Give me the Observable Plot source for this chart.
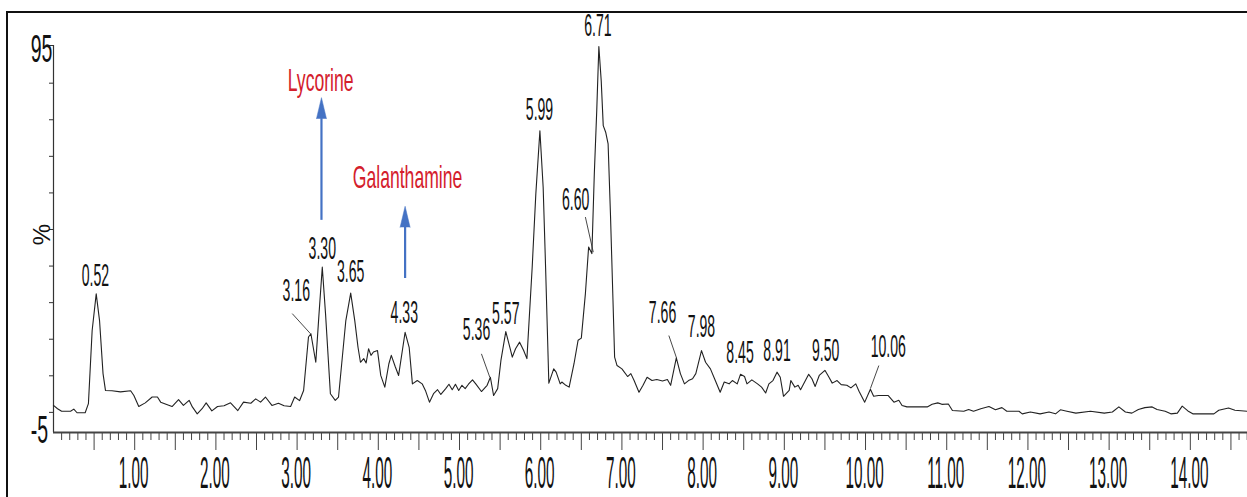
<!DOCTYPE html>
<html><head><meta charset="utf-8">
<script src="https://cdn.jsdelivr.net/npm/d3@7"></script>
<script src="https://cdn.jsdelivr.net/npm/@observablehq/plot@0.6"></script>
<style>
html,body{margin:0;padding:0;background:#fff;}
#wrap{position:relative;width:1247px;height:497px;overflow:hidden;}
#frame{position:absolute;left:6px;top:11px;width:1300px;height:600px;border-left:2.5px solid #111;border-top:2.5px solid #111;pointer-events:none;}
</style></head><body>
<div id="wrap"><div id="chart"></div><div id="frame"></div></div>
<script>
// Retention time (min) and relative intensity (%) of the chromatogram trace
const times = [0.00,0.05,0.10,0.21,0.25,0.29,0.39,0.43,0.476,0.526,0.567,0.61,0.64,0.72,0.825,0.95,0.99,1.05,1.13,1.215,1.28,1.32,1.46,1.54,1.60,1.67,1.71,1.77,1.83,1.88,1.95,2.02,2.10,2.18,2.27,2.34,2.43,2.49,2.55,2.61,2.69,2.77,2.84,2.92,2.97,3.03,3.08,3.14,3.17,3.23,3.27,3.31,3.35,3.41,3.47,3.51,3.60,3.66,3.71,3.75,3.78,3.82,3.85,3.88,3.91,3.94,3.99,4.03,4.08,4.13,4.16,4.21,4.25,4.33,4.38,4.42,4.48,4.54,4.58,4.63,4.68,4.73,4.77,4.83,4.87,4.91,4.95,4.99,5.03,5.07,5.11,5.16,5.20,5.27,5.34,5.38,5.42,5.47,5.51,5.57,5.62,5.65,5.69,5.74,5.79,5.83,5.895,5.94,5.99,6.03,6.06,6.10,6.16,6.19,6.24,6.26,6.31,6.35,6.41,6.46,6.50,6.55,6.59,6.63,6.66,6.69,6.716,6.745,6.77,6.80,6.83,6.86,6.89,6.91,6.94,7.00,7.07,7.11,7.15,7.21,7.26,7.31,7.37,7.43,7.50,7.56,7.60,7.67,7.72,7.77,7.82,7.87,7.91,7.98,8.03,8.09,8.15,8.21,8.26,8.32,8.36,8.42,8.46,8.51,8.54,8.60,8.67,8.72,8.77,8.81,8.86,8.91,8.95,8.99,9.06,9.08,9.13,9.17,9.20,9.25,9.30,9.34,9.38,9.43,9.50,9.55,9.59,9.65,9.70,9.77,9.82,9.88,9.92,9.99,10.06,10.10,10.16,10.28,10.35,10.41,10.45,10.51,10.66,10.76,10.82,10.89,10.94,11.02,11.07,11.21,11.27,11.33,11.42,11.52,11.60,11.68,11.74,11.89,11.93,12.03,12.15,12.26,12.34,12.40,12.48,12.59,12.77,12.94,13.04,13.12,13.20,13.28,13.36,13.44,13.53,13.59,13.69,13.76,13.84,13.90,13.97,14.03,14.29,14.35,14.47,14.55,14.70];
const intensity = [1.9,1.0,0.3,0.3,0.9,-0.1,-0.1,2.4,22.4,32.4,25.1,10.6,6.0,5.9,5.6,5.9,4.6,1.6,2.6,4.2,4.2,2.8,1.6,3.5,1.9,3.3,1.5,-0.4,1.0,2.6,0.4,1.6,1.8,2.6,0.5,2.8,2.5,3.7,2.8,4.2,1.9,2.5,1.8,1.6,4.2,3.2,6.0,20.6,21.5,13.7,27.0,39.7,27.0,5.1,3.3,4.2,25.1,32.6,25.1,17.8,13.7,14.7,13.5,17.4,15.6,16.5,16.9,10.1,6.9,13.3,15.6,12.4,10.1,21.9,17.8,7.8,8.7,7.8,6.0,2.8,5.1,6.2,4.9,6.5,7.7,6.2,7.7,6.0,7.4,6.5,7.7,8.9,7.8,5.7,7.4,9.6,4.6,6.5,14.2,22.1,17.8,15.1,17.4,19.2,16.9,14.7,39.7,59.8,77.0,61.6,39.7,8.0,11.9,11.0,7.8,8.3,7.4,6.9,13.3,19.7,20.3,32.4,45.2,43.4,65.2,82.5,100.0,90.7,78.4,76.6,73.4,53.4,30.6,15.1,12.8,11.9,9.8,10.6,8.7,5.5,7.4,9.6,8.7,9.0,8.6,9.0,7.4,14.9,10.6,7.8,8.7,9.2,10.6,16.9,13.7,11.9,8.7,5.5,8.3,7.8,8.7,7.8,10.4,9.8,7.8,8.9,7.8,6.9,5.3,7.8,8.7,11.0,9.6,4.4,6.0,8.7,6.9,7.4,6.2,8.3,10.4,9.2,7.1,10.1,11.5,9.6,8.0,8.7,7.6,7.4,6.7,7.8,5.8,2.8,6.3,4.4,4.6,4.6,2.8,3.3,1.9,1.5,1.5,1.5,2.2,2.6,2.2,2.3,0.5,0.3,0.8,0.3,1.0,1.6,0.7,1.3,0.3,0.3,-0.4,0.1,-0.4,0.1,-0.4,0.7,0.3,-0.2,0.3,-0.2,0.1,1.5,0.1,-0.2,0.8,1.3,1.5,0.8,0.3,-0.4,-0.2,1.7,0.4,-0.4,-0.4,0.6,1.2,0.6,0.3];

// Peak annotations: label text and label position (time, %)
const peakLabels = ["0.52","3.16","3.30","3.65","4.33","5.36","5.57","5.99","6.60","6.71","7.66","7.98","8.45","8.91","9.50","10.06"];
const peakLabelT = [0.517,2.99,3.31,3.66,4.32,5.21,5.57,5.985,6.43,6.705,7.50,7.98,8.455,8.91,9.51,10.28];
const peakLabelV = [37.4,33.3,44.8,38.5,27.2,22.7,27.0,82.8,58.2,105.6,27.2,23.5,16.3,16.8,16.8,18.0];

// Leader lines from offset labels to their peaks
const leaderT1 = [2.94,5.27,6.55,7.578,10.164];
const leaderV1 = [27.0,16.0,53.4,21.0,12.8];
const leaderT2 = [3.165,5.373,6.647,7.672,10.06];
const leaderV2 = [21.5,9.6,43.8,14.9,6.5];

// Compound annotations
const compoundNames = ["Lycorine","Galanthamine"];
const compoundT = [3.29,4.36];
const compoundV = [90.7,64.2];
const arrowT = [3.30,4.33];
const arrowFrom = [52.5,36.6];
const arrowHeadBase = [80.3,50.6];

// Axis ticks
const xTickValues = [1,2,3,4,5,6,7,8,9,10,11,12,13,14];
const xTickLabels = ["1.00","2.00","3.00","4.00","5.00","6.00","7.00","8.00","9.00","10.00","11.00","12.00","13.00","14.00"];
const xHalfTicks = [0.5,1,1.5,2,2.5,3,3.5,4,4.5,5,5.5,6,6.5,7,7.5,8,8.5,9,9.5,10,10.5,11,11.5,12,12.5,13,13.5,14,14.5];
const yTickValues = [0,10,20,30,40,50,60,70,80,90];
const yTopLabel = "95", yBottomLabel = "-5", yTitle = "%";

const yMin = -5.5, yMax = 100.3, xMax = 14.704;

const trace = times.map((t, i) => ({t, v: intensity[i]}));
const peaks = peakLabels.map((s, i) => ({s, t: peakLabelT[i], v: peakLabelV[i]}));
const leaders = leaderT1.map((t, i) => ({t1: t, v1: leaderV1[i], t2: leaderT2[i], v2: leaderV2[i]}));
const compounds = compoundNames.map((s, i) => ({s, t: compoundT[i], v: compoundV[i]}));
const arrows = arrowT.map((t, i) => ({t, from: arrowFrom[i], head: arrowHeadBase[i]}));
const xLabels = xTickValues.map((t, i) => ({t, s: xTickLabels[i]}));
const minorTicks = d3.range(1, 148).map(k => k / 10).filter(t => Math.abs(t * 2 - Math.round(t * 2)) > 1e-6);

const blue = "#4472c4", red = "#d4202c", ink = "#1a1a1a";

const svg = Plot.plot({
  width: 1247, height: 497,
  marginLeft: 53, marginRight: 0, marginTop: 45, marginBottom: 65,
  x: {domain: [0, xMax], axis: null},
  y: {domain: [yMin, yMax], axis: null},
  style: {background: "transparent", fontFamily: "'Liberation Sans', Arial, sans-serif", color: ink, overflow: "visible"},
  marks: [
    Plot.ruleX(minorTicks, {x: d => d, y1: yMin, y2: yMin, insetBottom: -8, stroke: "#444", strokeWidth: 1}),
    Plot.ruleX(xHalfTicks, {x: d => d, y1: yMin, y2: yMin, insetBottom: -18, stroke: "#444", strokeWidth: 1}),
    Plot.ruleY(yTickValues, {y: d => d, x1: 0, x2: 0, insetLeft: -4, stroke: "#333"}),
    Plot.ruleY([yMax], {y: d => d, x1: 0, x2: 0, insetLeft: -5, stroke: "#333"}),
    Plot.ruleX([0], {x: d => d, y1: yMin, y2: yMax, stroke: "#333", strokeWidth: 1.2}),
    Plot.ruleY([yMin], {y: d => d, stroke: "#444", strokeWidth: 2.2}),
    Plot.line(trace, {x: "t", y: "v", stroke: "#222", strokeWidth: 1.1}),
    Plot.link(leaders, {x1: "t1", y1: "v1", x2: "t2", y2: "v2", stroke: "#333", strokeWidth: 0.9}),
    Plot.text(peaks, {x: "t", y: "v", text: "s", fontSize: 32, fill: "#111", className: "pk"}),
    Plot.text(xLabels, {x: "t", y: yMin, text: "s", dy: 41, dx: -1, fontSize: 45, fill: "#111", className: "xl"}),
    Plot.text([yTopLabel], {frameAnchor: "top-left", text: d => d, dx: -12, dy: 4, textAnchor: "middle", lineAnchor: "middle", fontSize: 39, fill: "#111", className: "yl"}),
    Plot.text([yBottomLabel], {frameAnchor: "bottom-left", text: d => d, dx: -14, dy: -2, textAnchor: "middle", lineAnchor: "middle", fontSize: 39, fill: "#111", className: "yl"}),
    Plot.text([yTitle], {frameAnchor: "left", text: d => d, dx: -11.5, dy: -4.5, rotate: -90, textAnchor: "middle", lineAnchor: "middle", fontSize: 24, fill: "#111"}),
    Plot.ruleX(arrows, {x: "t", y1: "from", y2: "head", stroke: blue, strokeWidth: 2.2}),
    Plot.vector(arrows, {x: "t", y: "head", length: 21, r: 5, shape: "spike", anchor: "start", fill: blue, stroke: blue, strokeWidth: 0.5}),
    Plot.text(compounds, {x: "t", y: "v", text: "s", fontSize: 32, fill: red, className: "cmp"})
  ]
});

document.getElementById("chart").appendChild(svg);

// Condense the glyphs horizontally (the reference uses a narrow face) without moving the texts
const scaleMap = {pk: 0.44, xl: 0.34, yl: 0.5, cmp: 0.55};
for (const [cls, s] of Object.entries(scaleMap)) {
  svg.querySelectorAll(`.${cls} text`).forEach(t => {
    const w = t.getComputedTextLength();
    if (w > 0) {
      t.setAttribute("textLength", (w * s).toFixed(2));
      t.setAttribute("lengthAdjust", "spacingAndGlyphs");
    }
  });
}
</script>
</body></html>
